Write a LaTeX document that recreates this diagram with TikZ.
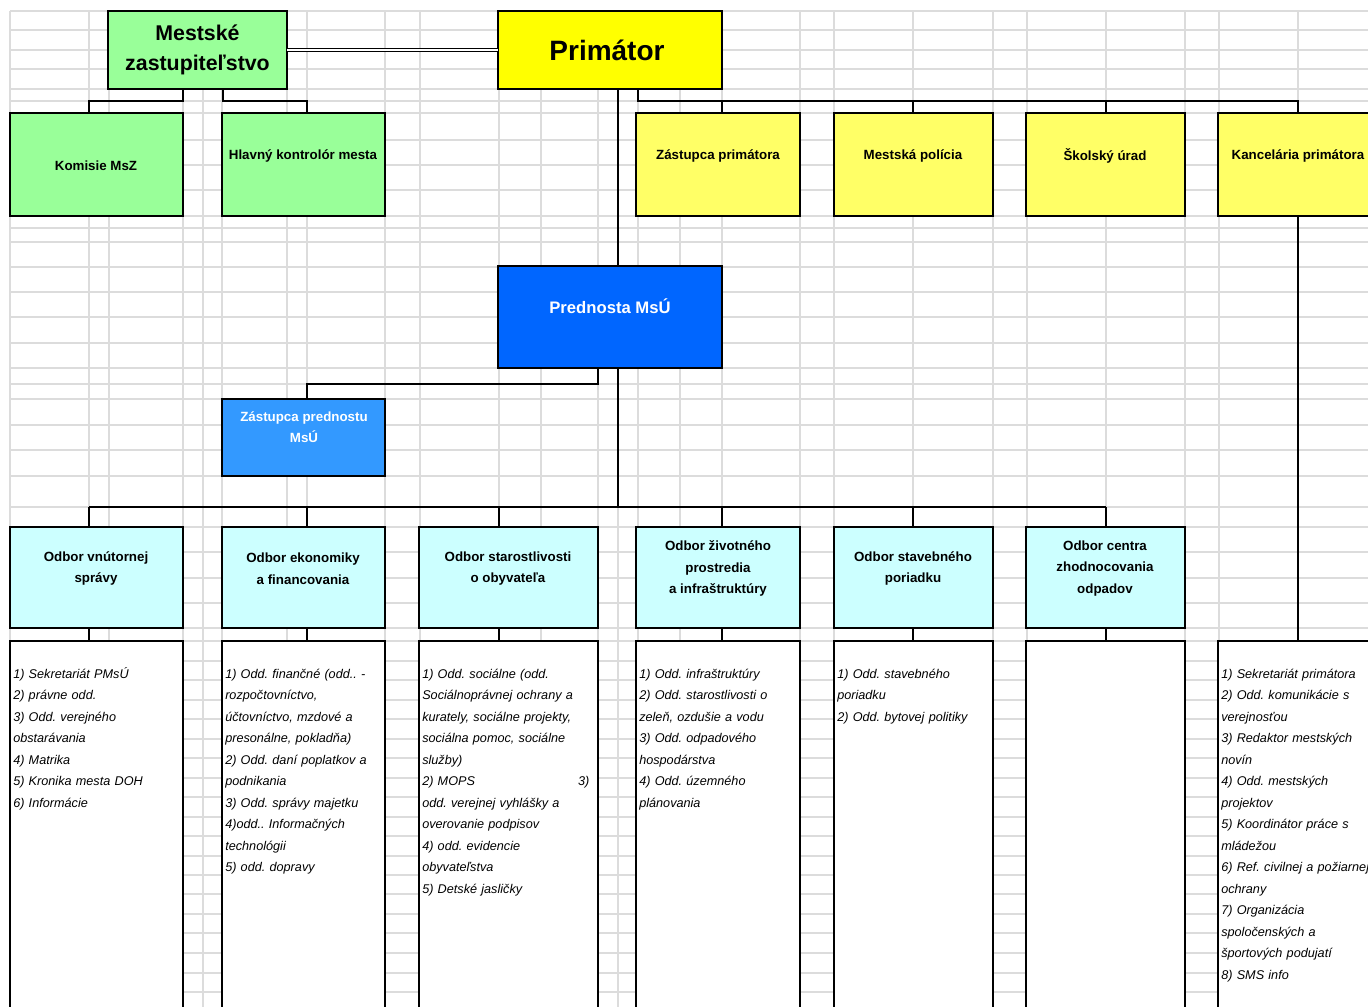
\documentclass[tikz,border=0pt]{standalone}
\usepackage{fontspec}
\setmainfont{Liberation Sans}
\frenchspacing
\definecolor{zgreen}{HTML}{99FF99}
\definecolor{pyellow}{HTML}{FFFF00}
\definecolor{lyellow}{HTML}{FFFF66}
\definecolor{pblue}{HTML}{0066FF}
\definecolor{lblue}{HTML}{3399FF}
\definecolor{lcyan}{HTML}{CCFFFF}
\definecolor{gridgray}{HTML}{DCDCDC}
\tikzset{
  orgbox/.style={draw=black, line width=1.5pt, rectangle, inner sep=0pt, outer sep=0pt},
  conn/.style={draw=black, line width=0.8pt},
  dblconn/.style={draw=black, double=white, double distance=1.3pt, line width=0.6pt},
  gridln/.style={draw=gridgray, line width=0.8pt},
  lbl/.style={font=\bfseries\fontsize{10}{16.1}\selectfont, align=center, inner sep=0pt},
  wlbl/.style={lbl, text=white},
  lst/.style={font=\itshape\fontsize{9.5}{16.1}\selectfont, align=left, anchor=base west, inner sep=0pt, text width=#1},
}
\newcommand{\mkbox}[6]{%
  \node[orgbox, fill=#6, minimum width={(#4-#2)*0.75pt}, minimum height={(#5-#3)*0.75pt}] (#1) at ({(#2+#4)/2},{(#3+#5)/2}) {};}
\begin{document}
\begin{tikzpicture}[x=0.75pt, y=-0.75pt]
\useasboundingbox (0,0) rectangle (1368,1007);
\begin{scope}
\clip (0,0) rectangle (1368,1007);
% background spreadsheet grid
\foreach \gx in {10,89,109,183,203,222,287,307,385,420,499,541,598,618,638,680,722,800,834,913,993,1027,1106,1185,1219,1298}
  \draw[gridln] (\gx,11) -- (\gx,1007);
\foreach \gy in {11,30,50,69,89,101,113,140,165,190,216,228,242,267,292,317,343,368,384,399,425,450,476,507,527,552,578,603,628,641,661,680,700,719,739,758,778,797,817,836,856,875,894,914,933,953,973,992}
  \draw[gridln] (10,\gy) -- (1368,\gy);

% boxes
\mkbox{mz}{108}{11}{287}{89}{zgreen}
\mkbox{pr}{498}{11}{722}{89}{pyellow}
\mkbox{ko}{10}{113}{183}{216}{zgreen}
\mkbox{hk}{222}{113}{385}{216}{zgreen}
\mkbox{zp}{636}{113}{800}{216}{lyellow}
\mkbox{mp}{834}{113}{993}{216}{lyellow}
\mkbox{su}{1026}{113}{1185}{216}{lyellow}
\mkbox{kp}{1218}{113}{1378}{216}{lyellow}
\mkbox{pm}{498}{266}{722}{368}{pblue}
\mkbox{zpm}{222}{399}{385}{476}{lblue}
\mkbox{o1}{10}{527}{183}{628}{lcyan}
\mkbox{o2}{222}{527}{385}{628}{lcyan}
\mkbox{o3}{419}{527}{598}{628}{lcyan}
\mkbox{o4}{636}{527}{800}{628}{lcyan}
\mkbox{o5}{834}{527}{993}{628}{lcyan}
\mkbox{o6}{1026}{527}{1185}{628}{lcyan}
\mkbox{l1}{10}{641}{183}{1020}{white}
\mkbox{l2}{222}{641}{385}{1020}{white}
\mkbox{l3}{419}{641}{598}{1020}{white}
\mkbox{l4}{636}{641}{800}{1020}{white}
\mkbox{l5}{834}{641}{993}{1020}{white}
\mkbox{l6}{1026}{641}{1185}{1020}{white}
\mkbox{l7}{1218}{641}{1378}{1020}{white}

% junction coordinates
\coordinate (a183) at (183,101);
\coordinate (a89) at (89,101);
\coordinate (a223) at (223,101);
\coordinate (a307) at (307,101);
\coordinate (b638) at (638,101);
\coordinate (b722) at (722,101);
\coordinate (b913) at (913,101);
\coordinate (b1106) at (1106,101);
\coordinate (b1298) at (1298,101);
\coordinate (q598) at (598,384);
\coordinate (q307) at (307,384);
\coordinate (m618) at (618,507);
\coordinate (m89) at (89,507);
\coordinate (m307) at (307,507);
\coordinate (m499) at (499,507);
\coordinate (m722) at (722,507);
\coordinate (m913) at (913,507);
\coordinate (m1106) at (1106,507);

% connectors
\draw[conn] (mz.south -| a183) |- (a89) -- (ko.north -| a89);
\draw[conn] (mz.south -| a223) |- (a307) -- (hk.north -| a307);
\draw[dblconn] (mz.east) -- (pr.west);
\draw[conn] (pr.south -| m618) -- (pm.north -| m618);
\draw[conn] (pr.south -| b638) -- (b638) -- (b1298) -- (kp.north -| b1298);
\draw[conn] (b722) -- (zp.north -| b722);
\draw[conn] (b913) -- (mp.north -| b913);
\draw[conn] (b1106) -- (su.north -| b1106);
\draw[conn] (kp.south -| b1298) -- (l7.north -| b1298);
\draw[conn] (pm.south -| q598) -- (q598) -- (q307) -- (zpm.north -| q307);
\draw[conn] (pm.south -| m618) -- (m618);
\draw[conn] (m89) -- (m1106);
\foreach \d/\l/\x in {o1/l1/m89, o2/l2/m307, o3/l3/m499, o4/l4/m722, o5/l5/m913, o6/l6/m1106}{
  \draw[conn] (\x) -- (\d.north -| \x);
  \draw[conn] (\d.south -| \x) -- (\l.north -| \x);
}

% labels
\node[lbl, font=\bfseries\fontsize{16}{22.5}\selectfont] (t-mz) at (197.5,50) {Mestské\\zastupiteľstvo};
\node[lbl, font=\bfseries\fontsize{21}{25}\selectfont] (t-pr) at (607,50) {Primátor};
\node[lbl] (t-ko) at (96,166) {Komisie MsZ};
\node[lbl] (t-hk) at (303,155.5) {Hlavný kontrolór mesta};
\node[lbl] (t-zp) at (718,155.5) {Zástupca primátora};
\node[lbl] (t-mp) at (913,155.5) {Mestská polícia};
\node[lbl] (t-su) at (1105,155.5) {Školský úrad};
\node[lbl] (t-kp) at (1298,155.5) {Kancelária primátora};
\node[wlbl, font=\bfseries\fontsize{12.5}{15}\selectfont] (t-pm) at (610,306) {Prednosta MsÚ};
\node[wlbl, font=\bfseries\fontsize{10}{15.75}\selectfont] (t-zpm) at (304,427.5) {Zástupca prednostu\\MsÚ};
\node[lbl] (t-o1) at (96,568.5) {Odbor vnútornej\\správy};
\node[lbl] (t-o2) at (303,568.5) {Odbor ekonomiky\\a financovania};
\node[lbl] (t-o3) at (508,568.5) {Odbor starostlivosti\\o obyvateľa};
\node[lbl] (t-o4) at (718,568.5) {Odbor životného\\prostredia\\a infraštruktúry};
\node[lbl] (t-o5) at (913,568.5) {Odbor stavebného\\poriadku};
\node[lbl] (t-o6) at (1105,568.5) {Odbor centra\\zhodnocovania\\odpadov};

% lists
\node[lst=126pt] (x-l1) at (13,678.5) {1) Sekretariát PMsÚ\\2) právne odd.\\3) Odd. verejného\\obstarávania\\4) Matrika\\5) Kronika mesta DOH\\6) Informácie};
\node[lst=118pt] (x-l2) at (225,678.5) {1) Odd. finančné (odd.. -\\rozpočtovníctvo,\\účtovníctvo, mzdové a\\presonálne, pokladňa)\\2) Odd. daní poplatkov a\\podnikania\\3) Odd. správy majetku\\4)odd.. Informačných\\technológii\\5) odd. dopravy};
\node[lst=125.25pt] (x-l3) at (422,678.5) {1) Odd. sociálne (odd.\\Sociálnoprávnej ochrany a\\kurately, sociálne projekty,\\sociálna pomoc, sociálne\\služby)\\2) MOPS\hfill 3)\\odd. verejnej vyhlášky a\\overovanie podpisov\\4) odd. evidencie\\obyvateľstva\\5) Detské jasličky};
\node[lst=120pt] (x-l4) at (639,678.5) {1) Odd. infraštruktúry\\2) Odd. starostlivosti o\\zeleň, ozdušie a vodu\\3) Odd. odpadového\\hospodárstva\\4) Odd. územného\\plánovania};
\node[lst=116pt] (x-l5) at (837,678.5) {1) Odd. stavebného\\poriadku\\2) Odd. bytovej politiky};
\node[lst=200pt] (x-l7) at (1221,678.5) {1) Sekretariát primátora\\2) Odd. komunikácie s\\verejnosťou\\3) Redaktor mestských\\novín\\4) Odd. mestských\\projektov\\5) Koordinátor práce s\\mládežou\\6) Ref. civilnej a požiarnej\\ochrany\\7) Organizácia\\spoločenských a\\športových podujatí\\8) SMS info};
\end{scope}
\end{tikzpicture}
\end{document}
